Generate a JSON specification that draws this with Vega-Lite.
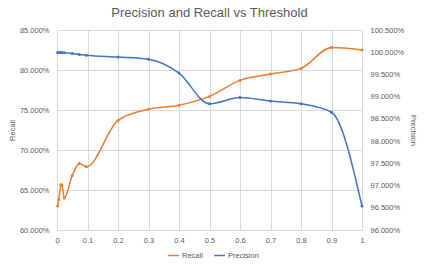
{
  "$schema": "https://vega.github.io/schema/vega-lite/v6.json",
  "autosize": {"type": "none"},
  "width": 305,
  "height": 200,
  "padding": {"left": 57, "top": 30, "right": 64, "bottom": 37},
  "background": "white",
  "title": {"text": "Precision and Recall vs Threshold", "fontSize": 13, "font": "Liberation Sans", "fontWeight": "normal", "color": "#595959", "offset": 6, "anchor": "middle"},
  "config": {
    "view": {"stroke": null},
    "font": "Liberation Sans",
    "axis": {"labelColor": "#595959", "labelFontSize": 7.5, "titleColor": "#595959", "titleFontSize": 7.5, "titleFontWeight": "normal", "domain": false, "ticks": false, "gridColor": "#d9d9d9", "gridWidth": 1, "labelOverlap": false}
  },
  "datasets": {
    "recall": [
      {"threshold": 0.002, "value": 0.630},
      {"threshold": 0.006, "value": 0.638},
      {"threshold": 0.013, "value": 0.657},
      {"threshold": 0.016, "value": 0.656},
      {"threshold": 0.024, "value": 0.640},
      {"threshold": 0.05, "value": 0.668},
      {"threshold": 0.073, "value": 0.683},
      {"threshold": 0.096, "value": 0.679},
      {"threshold": 0.2, "value": 0.737},
      {"threshold": 0.3, "value": 0.751},
      {"threshold": 0.4, "value": 0.756},
      {"threshold": 0.5, "value": 0.767},
      {"threshold": 0.6, "value": 0.787},
      {"threshold": 0.7, "value": 0.795},
      {"threshold": 0.8, "value": 0.802},
      {"threshold": 0.9, "value": 0.828},
      {"threshold": 1.0, "value": 0.825}
    ],
    "precision": [
      {"threshold": 0.002, "value": 0.99995},
      {"threshold": 0.006, "value": 0.99995},
      {"threshold": 0.013, "value": 0.99993},
      {"threshold": 0.016, "value": 0.99993},
      {"threshold": 0.024, "value": 0.9999},
      {"threshold": 0.05, "value": 0.9997},
      {"threshold": 0.073, "value": 0.9995},
      {"threshold": 0.096, "value": 0.9993},
      {"threshold": 0.2, "value": 0.9989},
      {"threshold": 0.3, "value": 0.9984},
      {"threshold": 0.4, "value": 0.9953},
      {"threshold": 0.5, "value": 0.9884},
      {"threshold": 0.6, "value": 0.9898},
      {"threshold": 0.7, "value": 0.9890},
      {"threshold": 0.8, "value": 0.9884},
      {"threshold": 0.9, "value": 0.9865},
      {"threshold": 1.0, "value": 0.9654}
    ]
  },
  "layer": [
    {
      "data": {"name": "recall"},
      "transform": [{"calculate": "'Recall'", "as": "series"}],
      "mark": {"type": "line", "interpolate": "monotone", "strokeWidth": 1.5, "point": {"size": 9, "filled": true}},
      "encoding": {
        "x": {"field": "threshold", "type": "quantitative", "scale": {"domain": [0, 1], "nice": false}, "axis": {"values": [0, 0.1, 0.2, 0.3, 0.4, 0.5, 0.6, 0.7, 0.8, 0.9, 1], "format": "~g", "title": null, "labelPadding": 6, "grid": true, "labelOverlap": false, "labelFlush": false}},
        "y": {"field": "value", "type": "quantitative", "scale": {"domain": [0.6, 0.85], "nice": false, "zero": false}, "axis": {"values": [0.6, 0.65, 0.7, 0.75, 0.8, 0.85], "format": ".3%", "title": "Recall", "labelPadding": 8, "titlePadding": 3, "grid": true}},
        "color": {"field": "series", "type": "nominal", "scale": {"domain": ["Recall", "Precision"], "range": ["#ED7D31", "#4472C4"]}, "legend": {"title": null, "orient": "none", "legendX": 110, "legendY": 219, "direction": "horizontal", "symbolType": "stroke", "symbolSize": 120, "symbolStrokeWidth": 1.5, "labelFontSize": 7.5, "labelColor": "#595959", "columnPadding": 8, "labelOffset": 2}}
      }
    },
    {
      "data": {"name": "precision"},
      "transform": [{"calculate": "'Precision'", "as": "series"}],
      "mark": {"type": "line", "interpolate": "monotone", "strokeWidth": 1.5, "point": {"size": 9, "filled": true}},
      "encoding": {
        "x": {"field": "threshold", "type": "quantitative", "axis": {"values": [0, 0.1, 0.2, 0.3, 0.4, 0.5, 0.6, 0.7, 0.8, 0.9, 1], "format": "~g", "title": null, "labelPadding": 6, "grid": true, "labelOverlap": false, "labelFlush": false}},
        "y": {"field": "value", "type": "quantitative", "scale": {"domain": [0.96, 1.005], "nice": false, "zero": false}, "axis": {"orient": "right", "values": [0.96, 0.965, 0.97, 0.975, 0.98, 0.985, 0.99, 0.995, 1.0, 1.005], "format": ".3%", "title": "Precision", "labelPadding": 8, "titlePadding": 5, "grid": false}},
        "color": {"field": "series", "type": "nominal"}
      }
    }
  ],
  "resolve": {"scale": {"y": "independent"}}
}
